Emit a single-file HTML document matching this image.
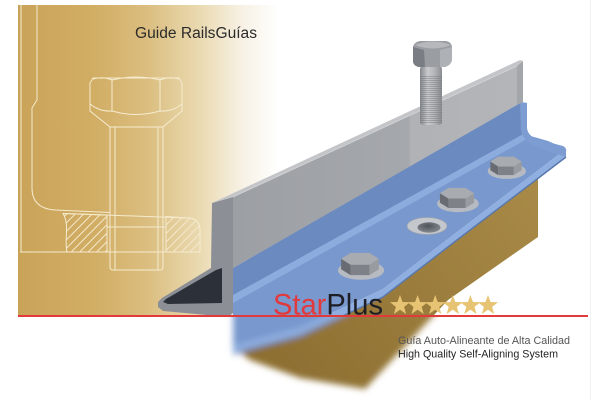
<!DOCTYPE html>
<html><head><meta charset="utf-8"><style>
html,body{margin:0;padding:0;background:#fff;}
svg{display:block;}
</style></head><body>
<svg width="610" height="400" viewBox="0 0 610 400" xmlns="http://www.w3.org/2000/svg" xmlns:xlink="http://www.w3.org/1999/xlink">
<defs>
  <linearGradient id="goldPanel" x1="18" y1="0" x2="278" y2="0" gradientUnits="userSpaceOnUse">
    <stop offset="0" stop-color="#c9a358"/>
    <stop offset="0.3" stop-color="#d2ae65"/>
    <stop offset="0.5" stop-color="#dbbe80"/>
    <stop offset="0.7" stop-color="#eadab1"/>
    <stop offset="0.86" stop-color="#f7f1e4"/>
    <stop offset="1" stop-color="#ffffff"/>
  </linearGradient>
  <linearGradient id="grayFront" x1="233" y1="0" x2="517" y2="0" gradientUnits="userSpaceOnUse">
    <stop offset="0" stop-color="#9c9fa4"/>
    <stop offset="0.62" stop-color="#a5a8ac"/>
    <stop offset="0.625" stop-color="#b0b2b6"/>
    <stop offset="1" stop-color="#b3b5b8"/>
  </linearGradient>
  <linearGradient id="goldBlock" x1="540" y1="180" x2="300" y2="380" gradientUnits="userSpaceOnUse">
    <stop offset="0" stop-color="#a98a47"/>
    <stop offset="1" stop-color="#8e7033"/>
  </linearGradient>
  <linearGradient id="shaftG" x1="420" y1="0" x2="442" y2="0" gradientUnits="userSpaceOnUse">
    <stop offset="0" stop-color="#85888d"/>
    <stop offset="0.35" stop-color="#c8cacd"/>
    <stop offset="0.65" stop-color="#b4b6b9"/>
    <stop offset="1" stop-color="#8a8d92"/>
  </linearGradient>
  <radialGradient id="holeG" cx="0.45" cy="0.35" r="0.7">
    <stop offset="0" stop-color="#4f535a"/>
    <stop offset="1" stop-color="#8a8e95"/>
  </radialGradient>
  <pattern id="hatch" width="6" height="6" patternUnits="userSpaceOnUse" patternTransform="rotate(45)">
    <line x1="0.5" y1="0" x2="0.5" y2="6" stroke="#f4e9cb" stroke-width="1"/>
  </pattern>
  <pattern id="thread" width="4" height="2" patternUnits="userSpaceOnUse">
    <rect width="4" height="0.9" fill="#6c6f74" opacity="0.45"/>
  </pattern>
  <clipPath id="above"><rect x="0" y="0" width="610" height="316"/></clipPath>
  <clipPath id="below"><rect x="0" y="316" width="610" height="84"/></clipPath>
  <filter id="blur" x="-20%" y="-20%" width="140%" height="140%"><feGaussianBlur stdDeviation="3.2"/></filter>
  <filter id="soft" x="-20%" y="-20%" width="140%" height="140%"><feGaussianBlur stdDeviation="0.35"/></filter>

  <g id="base">
    <!-- gold block -->
    <polygon points="538,176 538,237 448,300 365,389 300,378 250,360 240,352 300,336 383,297 457,240 566,157" fill="url(#goldBlock)"/>
    <!-- blue vertical leg -->
    <polygon points="233,268 520,102 527,103 527,137 233,300" fill="#6a8ac0"/>
    <!-- flange top -->
    <polygon points="527,135 548,141 566,149 457,232 383,289 300,328 240,344 233,346 233,298" fill="#7898ce"/>
    <!-- bend highlight -->
    <polygon points="527,132 527,139 233,303 233,295" fill="#8dacde"/>
    <!-- front rounded edge -->
    <polygon points="566,149 566,157 457,240 383,297 300,336 240,352 233,354 233,346 240,344 300,328 383,289 457,232" fill="#8fafe1"/>
    <polyline points="566,157 457,240 383,297 300,336 240,352 233,354" fill="none" stroke="#5a78ac" stroke-width="1.5"/>
    <!-- right end of blue angle -->
    <path d="M520,102 L527,103 L527,128 Q528,137 540,140 L563,146 Q567,148 566,152 L566,157 L545,150 Q523,144 521,130 Z" fill="#7d9dd2"/>
  </g>
</defs>

<!-- gold panel -->
<rect x="18" y="5" width="262" height="311" fill="url(#goldPanel)"/>

<!-- technical drawing lines -->
<g fill="none" stroke="#f5ebcf" stroke-width="1">
  <path d="M63,213.5 L107,215 L107,252 L67,252 C64,240 70,225 63,213.5 Z" fill="url(#hatch)"/>
  <path d="M166,216.5 L188,218 C196,218 200,223 200,230 L200,252 L166,252 Z" fill="url(#hatch)"/>
  <path d="M21,5 V252"/>
  <path d="M37,5 V100 L32,108 V188 C32,202 40,209 55,210 L110,212.5"/>
  <path d="M63,213.5 L188,218 C196,218 200,223 200,230 V252"/>
  <path d="M20,252 H200"/>
  <path d="M110,127 V267 Q110,270 113,270 H160 Q163,270 163,267 V127"/>
  <path d="M115,127 V270 M158,127 V270"/>
  <path d="M107,227 H166"/>
  <path d="M90,83 L93,78 H179 L182,83 V111 L163,127 H110 L90,111 Z"/>
  <path d="M112,79 V111 M160,79 V111"/>
  <path d="M90,104 Q100,112 112,111 M112,111 Q136,118 160,111 M160,111 Q172,112 182,104"/>
  <path d="M93,79 Q102,76 112,80 M112,80 Q136,74 160,80 M160,80 Q170,76 179,79"/>
</g>

<!-- faint right line -->
<rect x="590" y="0" width="1" height="400" fill="#f1f1f1"/>

<!-- lower structure: sharp above line, blurred below -->
<g clip-path="url(#above)"><use href="#base" xlink:href="#base"/></g>
<g clip-path="url(#below)"><g filter="url(#blur)"><use href="#base" xlink:href="#base"/></g></g>

<!-- countersunk hole -->
<ellipse cx="427" cy="226" rx="20" ry="8.5" fill="#c4c7cb"/>
<ellipse cx="427" cy="226" rx="20" ry="8.5" fill="none" stroke="#9aa3b3" stroke-width="0.8"/>
<ellipse cx="429" cy="227.5" rx="11.5" ry="5.2" fill="url(#holeG)"/>

<!-- flange bolts -->
<g id="bolt1" transform="translate(360,263) scale(1.05)">
  <ellipse cx="1" cy="7" rx="22" ry="9" fill="#b7bbc1"/>
  <polygon points="-18,-4 -9,1.6 -9,11.6 -18,6" fill="#686c72"/>
  <polygon points="-9,1.6 9,1.6 9,11.6 -9,11.6" fill="#7e8288"/>
  <polygon points="9,1.6 18,-4 18,6 9,11.6" fill="#989ca1"/>
  <polygon points="18,-4 9,-9.6 -9,-9.6 -18,-4 -9,1.6 9,1.6" fill="#a8abaf"/>
</g>
<g transform="translate(457,197) scale(0.95)">
  <ellipse cx="1" cy="7" rx="22" ry="9" fill="#b7bbc1"/>
  <polygon points="-18,-4 -9,1.6 -9,11.6 -18,6" fill="#686c72"/>
  <polygon points="-9,1.6 9,1.6 9,11.6 -9,11.6" fill="#7e8288"/>
  <polygon points="9,1.6 18,-4 18,6 9,11.6" fill="#989ca1"/>
  <polygon points="18,-4 9,-9.6 -9,-9.6 -18,-4 -9,1.6 9,1.6" fill="#a8abaf"/>
</g>
<g transform="translate(506,165) scale(0.87)">
  <ellipse cx="1" cy="7" rx="22" ry="9" fill="#b7bbc1"/>
  <polygon points="-18,-4 -9,1.6 -9,11.6 -18,6" fill="#686c72"/>
  <polygon points="-9,1.6 9,1.6 9,11.6 -9,11.6" fill="#7e8288"/>
  <polygon points="9,1.6 18,-4 18,6 9,11.6" fill="#989ca1"/>
  <polygon points="18,-4 9,-9.6 -9,-9.6 -18,-4 -9,1.6 9,1.6" fill="#a8abaf"/>
</g>

<!-- gray rail -->
<g clip-path="url(#above)">
  <!-- end profile -->
  <polygon points="212,203 233,197 233,313 228,317 163,311 158,307 158,302 162,298 211,268" fill="#8c8f95"/>
  <polygon points="216,270 222,268 222,303 168,304 163,302 166,299" fill="#2b3039"/>
  <!-- front face -->
  <polygon points="233,197 517,66 517,105 233,268" fill="url(#grayFront)"/>
  <!-- top strip -->
  <polygon points="212,203 520,60 523,61 517,66 233,197" fill="#c3c5c8"/>
  <line x1="233" y1="197" x2="517" y2="66" stroke="#d3d5d7" stroke-width="0.8"/>
  <!-- right end -->
  <polygon points="517,66 523,61 523,102 517,105" fill="#a3a6aa"/>
</g>

<!-- standing bolt -->
<rect x="420" y="66" width="22" height="59" rx="3" fill="url(#shaftG)"/>
<rect x="420" y="76" width="22" height="48" fill="url(#thread)"/>
<path d="M413,47 Q414,42 420,41 L446,41 Q452,42 452,48 L452,60 Q451,65 445,67 L419,67 Q414,66 413,62 Z" fill="#9a9da2"/>
<path d="M413,47 L424,50 L425,67 L419,67 Q414,66 413,62 Z" fill="#7a7d83"/>
<path d="M440,50 L452,47 L452,60 Q451,65 445,67 L440,67 Z" fill="#aeb1b5"/>
<path d="M415,45 Q433,38 451,45 Q433,52 415,45 Z" fill="#b6b8bb"/>

<!-- red rule -->
<rect x="18" y="315" width="570" height="2" fill="#e23a3b"/>

<!-- stars -->
<g fill="#e7c473" filter="url(#soft)">
  <polygon transform="translate(400,305.5)" points="0,-10.5 2.53,-3.48 9.99,-3.24 4.09,1.33 6.17,8.49 0,4.3 -6.17,8.49 -4.09,1.33 -9.99,-3.24 -2.53,-3.48"/>
  <polygon transform="translate(417.6,305.5)" points="0,-10.5 2.53,-3.48 9.99,-3.24 4.09,1.33 6.17,8.49 0,4.3 -6.17,8.49 -4.09,1.33 -9.99,-3.24 -2.53,-3.48"/>
  <polygon transform="translate(435.2,305.5)" points="0,-10.5 2.53,-3.48 9.99,-3.24 4.09,1.33 6.17,8.49 0,4.3 -6.17,8.49 -4.09,1.33 -9.99,-3.24 -2.53,-3.48"/>
  <polygon transform="translate(452.8,305.5)" points="0,-10.5 2.53,-3.48 9.99,-3.24 4.09,1.33 6.17,8.49 0,4.3 -6.17,8.49 -4.09,1.33 -9.99,-3.24 -2.53,-3.48"/>
  <polygon transform="translate(470.4,305.5)" points="0,-10.5 2.53,-3.48 9.99,-3.24 4.09,1.33 6.17,8.49 0,4.3 -6.17,8.49 -4.09,1.33 -9.99,-3.24 -2.53,-3.48"/>
  <polygon transform="translate(488,305.5)" points="0,-10.5 2.53,-3.48 9.99,-3.24 4.09,1.33 6.17,8.49 0,4.3 -6.17,8.49 -4.09,1.33 -9.99,-3.24 -2.53,-3.48"/>
</g>

<!-- texts -->
<text x="135" y="38" font-family="Liberation Sans, sans-serif" font-size="15.5" fill="#2b2b2b" textLength="122" lengthAdjust="spacingAndGlyphs">Guide RailsGuías</text>
<text x="273" y="314.5" font-family="Liberation Sans, sans-serif" font-size="30" textLength="110" lengthAdjust="spacingAndGlyphs"><tspan fill="#e23a3c">Star</tspan><tspan fill="#1e1e25">Plus</tspan></text>
<text x="398" y="344" font-family="Liberation Sans, sans-serif" font-size="11" fill="#555555" textLength="172" lengthAdjust="spacingAndGlyphs">Guía Auto-Alineante de Alta Calidad</text>
<text x="398" y="357.5" font-family="Liberation Sans, sans-serif" font-size="11" fill="#222222" textLength="160" lengthAdjust="spacingAndGlyphs">High Quality Self-Aligning System</text>
</svg>
</body></html>
